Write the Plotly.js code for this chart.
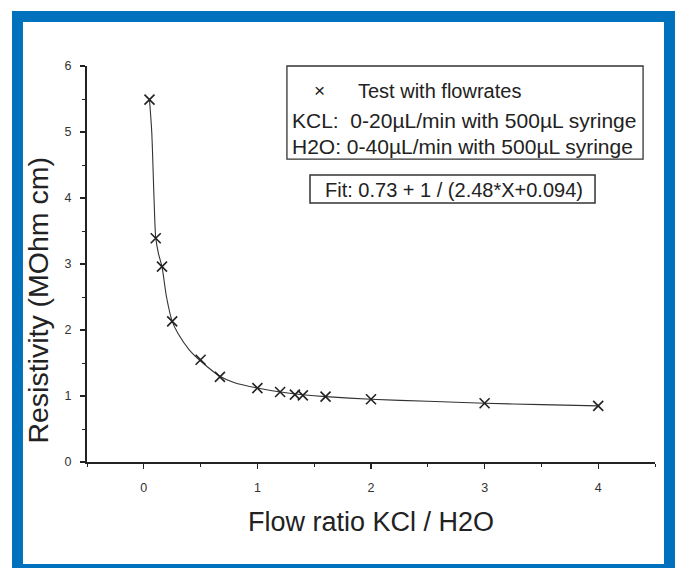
<!DOCTYPE html>
<html>
<head>
<meta charset="utf-8">
<script src="https://cdn.plot.ly/plotly-3.0.1.min.js"></script>
<style>
  html, body { margin: 0; padding: 0; background: #ffffff; }
  #chart { width: 679px; height: 568px; }
</style>
</head>
<body>
<div id="chart"></div>
<script>
// Measured points
const flowRatio   = [0.05, 0.105, 0.16, 0.25, 0.5, 0.67, 1.0, 1.2, 1.33, 1.4, 1.6, 2.0, 3.0, 4.0];
const resistivity = [5.49, 3.39, 2.96, 2.13, 1.55, 1.29, 1.12, 1.06, 1.02, 1.01, 0.99, 0.95, 0.89, 0.85];

// Fit curve
const fitX = [0.05, 0.07, 0.09, 0.105, 0.13, 0.16, 0.2, 0.25, 0.3, 0.4, 0.5, 0.67, 0.8, 1.0, 1.2, 1.4, 1.6, 2.0, 2.5, 3.0, 3.5, 4.0];
const fitY = [5.49, 5.0, 4.0, 3.4, 3.15, 2.96, 2.5, 2.13, 1.95, 1.7, 1.53, 1.3, 1.2, 1.12, 1.06, 1.02, 0.99, 0.95, 0.92, 0.89, 0.87, 0.85];

// Tick labels
const xTicks = [0, 1, 2, 3, 4];
const yTicks = [0, 1, 2, 3, 4, 5, 6];

const legendLines = [
  "Test with flowrates",
  "KCL:\u00A0\u00A00-20\u00B5L/min with 500\u00B5L syringe",
  "H2O: 0-40\u00B5L/min with 500\u00B5L syringe"
];
const fitLabel = "Fit: 0.73 + 1 / (2.48*X+0.094)";
const xTitle = "Flow ratio KCl / H2O";
const yTitle = "Resistivity (MOhm cm)";

const FONT = "Liberation Sans, Arial, sans-serif";
const INK = "#222222";
const BLUE = "#0071bc";

const traces = [
  {
    x: fitX, y: fitY, type: "scatter", mode: "lines",
    line: { color: "#333333", width: 1.1, shape: "spline", smoothing: 0.7 },
    hoverinfo: "skip", showlegend: false
  },
  {
    x: flowRatio, y: resistivity, type: "scatter", mode: "markers",
    marker: { symbol: "x-thin", size: 10, color: INK, line: { color: INK, width: 1.6 } },
    showlegend: false
  }
];

const layout = {
  width: 679, height: 568,
  margin: { l: 87, r: 24, t: 66, b: 106 },
  paper_bgcolor: "#ffffff",
  plot_bgcolor: "rgba(0,0,0,0)",
  showlegend: false,
  font: { family: FONT, color: INK },
  xaxis: {
    range: [-0.5, 4.5],
    tickvals: xTicks, ticktext: xTicks.map(String),
    ticks: "outside", ticklen: 5, tickwidth: 1.2, tickcolor: INK,
    minor: { dtick: 0.5, tick0: 0, ticks: "outside", ticklen: 3, tickcolor: INK, tickwidth: 1 },
    showline: true, linecolor: INK, linewidth: 1.5,
    showgrid: false, zeroline: false,
    tickfont: { family: FONT, size: 12.5, color: "#333333" },
    ticklabelstandoff: 8
  },
  yaxis: {
    range: [0, 6],
    tickvals: yTicks, ticktext: yTicks.map(String),
    ticks: "outside", ticklen: 5, tickwidth: 1.2, tickcolor: INK,
    minor: { dtick: 0.5, tick0: 0, ticks: "outside", ticklen: 3, tickcolor: INK, tickwidth: 1 },
    showline: true, linecolor: INK, linewidth: 2,
    showgrid: false, zeroline: false,
    tickfont: { family: FONT, size: 12.5, color: "#333333" },
    ticklabelstandoff: 6
  },
  shapes: [
    // blue frame
    { type: "rect", xref: "paper", yref: "paper", x0: -0.1224, x1: 1.0255, y0: -0.2715, y1: 1.125,
      line: { color: BLUE, width: 11 }, fillcolor: "rgba(0,0,0,0)", layer: "below" },
    // legend box
    { type: "rect", xref: "paper", yref: "paper", x0: 0.352, x1: 0.979, y0: 0.765, y1: 1.0,
      line: { color: "#333333", width: 1.3 }, fillcolor: "rgba(0,0,0,0)" },
    // fit box
    { type: "rect", xref: "paper", yref: "paper", x0: 0.3926, x1: 0.8944, y0: 0.654, y1: 0.7247,
      line: { color: "#333333", width: 1.5 }, fillcolor: "rgba(0,0,0,0)" }
  ],
  annotations: [
    { xref: "paper", yref: "paper", x: 0.410, y: 0.937, xanchor: "center", yanchor: "middle",
      text: "\u00D7", showarrow: false, font: { family: FONT, size: 19, color: INK } },
    { xref: "paper", yref: "paper", x: 0.4736, y: 0.937, xanchor: "left", yanchor: "middle",
      text: legendLines[0], showarrow: false, font: { family: FONT, size: 20, color: INK } },
    { xref: "paper", yref: "paper", x: 0.357, y: 0.8636, xanchor: "left", yanchor: "middle",
      text: legendLines[1], showarrow: false, font: { family: FONT, size: 21, color: INK } },
    { xref: "paper", yref: "paper", x: 0.357, y: 0.7955, xanchor: "left", yanchor: "middle",
      text: legendLines[2], showarrow: false, font: { family: FONT, size: 21, color: INK } },
    { xref: "paper", yref: "paper", x: 0.646, y: 0.687, xanchor: "center", yanchor: "middle",
      text: fitLabel, showarrow: false, font: { family: FONT, size: 20, color: INK } },
    { xref: "paper", yref: "paper", x: 0.5, y: -0.1515, xanchor: "center", yanchor: "middle",
      text: xTitle, showarrow: false, font: { family: FONT, size: 27, color: INK } },
    { xref: "paper", yref: "paper", x: -0.0863, y: 0.41, xanchor: "center", yanchor: "middle",
      text: yTitle, textangle: -90, showarrow: false, font: { family: FONT, size: 28.5, color: INK } }
  ]
};

Plotly.newPlot("chart", traces, layout, { displayModeBar: false, staticPlot: true });
</script>
</body>
</html>
